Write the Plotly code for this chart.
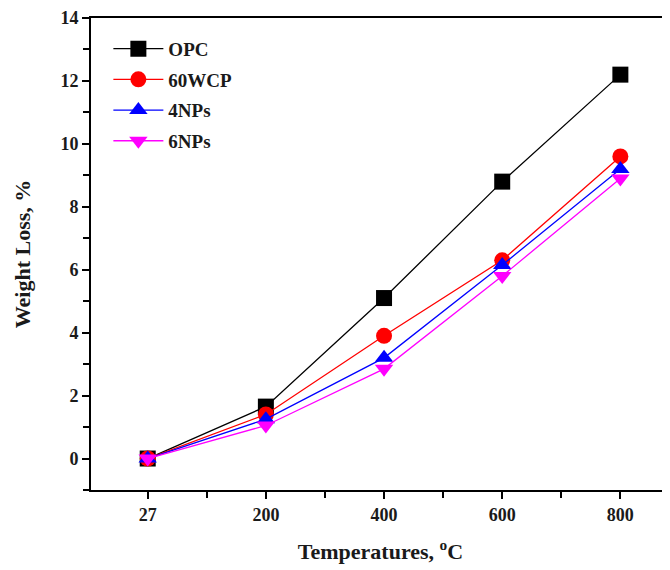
import plotly.graph_objects as go

temps = ["27", "200", "400", "600", "800"]
opc = [0.0, 1.65, 5.1, 8.8, 12.2]
wcp60 = [0.0, 1.4, 3.9, 6.3, 9.6]
nps4 = [0.0, 1.25, 3.2, 6.15, 9.2]
nps6 = [0.0, 1.05, 2.85, 5.8, 8.9]

names = ["OPC", "60WCP", "4NPs", "6NPs"]
series = [opc, wcp60, nps4, nps6]
colors = ["#000000", "#ff0000", "#0000ff", "#ff00ff"]
symbols = ["square", "circle", "triangle-up", "triangle-down"]

xpos = list(range(len(temps)))
fig = go.Figure()
for n, s, c, m in zip(names, series, colors, symbols):
    fig.add_trace(go.Scatter(
        x=xpos, y=s, name=n, legendgroup=n, mode="lines+markers",
        line=dict(color=c, width=1.3),
        marker=dict(symbol=m, size=16, color=c),
    ))

txt = "#1a1a1a"
fig.update_layout(
    width=662, height=562,
    margin=dict(l=83, r=0, t=10, b=80),
    plot_bgcolor="white", paper_bgcolor="white",
    showlegend=True,
    legend=dict(x=0.03, y=0.975, xanchor="left", yanchor="top",
                font=dict(family="Liberation Serif", size=19, color=txt, weight="bold"),
                bgcolor="rgba(0,0,0,0)", tracegroupgap=3, itemwidth=50),
    font=dict(family="Liberation Serif", color=txt),
)
fig.update_xaxes(
    tickmode="array", tickvals=xpos, ticktext=temps,
    range=[-0.48, 4.42],
    showgrid=False, zeroline=False,
    showline=True, linecolor="black", linewidth=2, mirror=True,
    ticks="outside", ticklen=7, tickwidth=2, tickcolor="black",
    minor=dict(tickvals=[0.5, 1.5, 2.5, 3.5], ticks="outside", ticklen=6, tickwidth=2, tickcolor="black"),
    tickfont=dict(family="Liberation Serif", size=18, color=txt, weight="bold"),
    title=dict(text="Temperatures, <sup>o</sup>C", standoff=20,
               font=dict(family="Liberation Serif", size=22, color=txt, weight="bold")),
)
fig.update_yaxes(
    range=[-1, 14], tickvals=[0, 2, 4, 6, 8, 10, 12, 14],
    showgrid=False, zeroline=False,
    showline=True, linecolor="black", linewidth=2, mirror=False,
    ticks="outside", ticklen=7, tickwidth=2, tickcolor="black",
    minor=dict(dtick=1, ticks="outside", ticklen=6, tickwidth=2, tickcolor="black"),
    tickfont=dict(family="Liberation Serif", size=18, color=txt, weight="bold"),
    title=dict(text="Weight Loss, %", standoff=24,
               font=dict(family="Liberation Serif", size=22, color=txt, weight="bold")),
)
fig.write_html("out.html")
